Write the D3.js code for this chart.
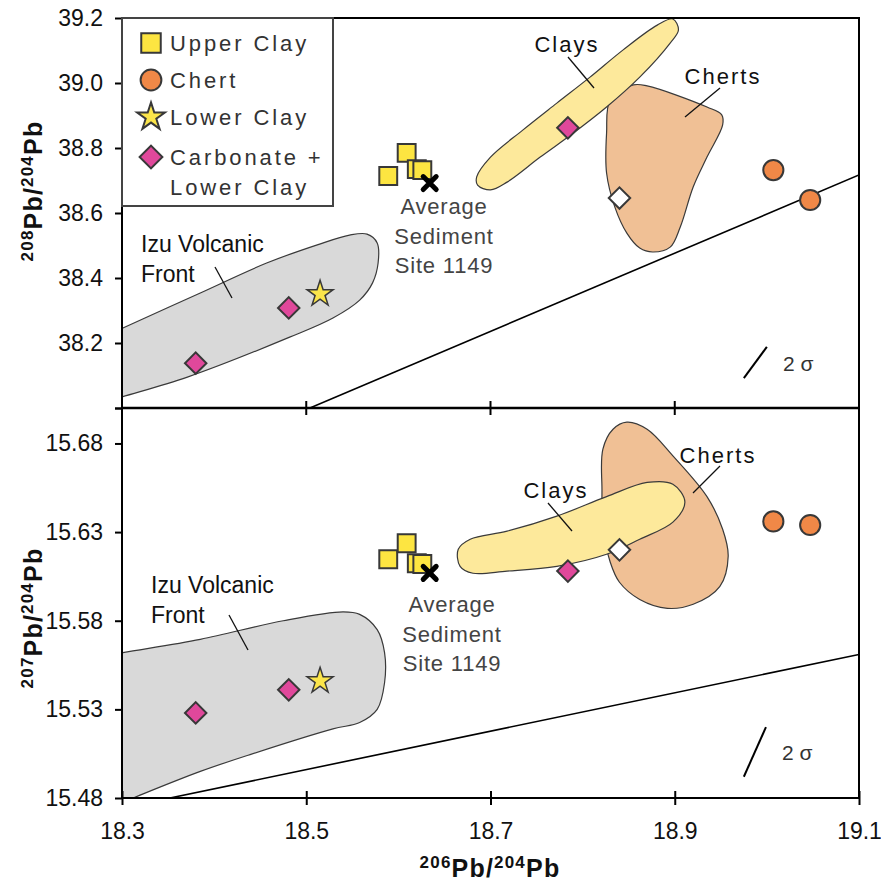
<!DOCTYPE html>
<html>
<head>
<meta charset="utf-8">
<script src="https://cdn.jsdelivr.net/npm/d3@7.9.0/dist/d3.min.js"></script>
<style>
  body { margin: 0; background: #fff; }
  svg { display: block; font-family: "Liberation Sans", Arial, Helvetica, sans-serif; }
</style>
</head>
<body>
<svg id="chart" width="881" height="881"></svg>
<script>
// ---- data ----
const xTicks = [18.3, 18.5, 18.7, 18.9, 19.1];
const y208Ticks = [38.0, 38.2, 38.4, 38.6, 38.8, 39.0, 39.2];
const y207Ticks = [15.48, 15.53, 15.58, 15.63, 15.68, 15.70];

// samples: 206/204, 208/204, 207/204
const upperClayX = [18.589, 18.609, 18.620, 18.626];
const upperClay208 = [38.714, 38.785, 38.735, 38.732];
const upperClay207 = [15.6147, 15.6237, 15.6124, 15.6120];

const chertX = [19.007, 19.047];
const chert208 = [38.732, 38.640];
const chert207 = [15.636, 15.634];

const lowerClayX = [18.515];
const lowerClay208 = [38.351];
const lowerClay207 = [15.546];

const carbX = [18.380, 18.481, 18.784];
const carb208 = [38.138, 38.308, 38.862];
const carb207 = [15.528, 15.541, 15.608];

const openDiamondX = [18.840];
const openDiamond208 = [38.646];
const openDiamond207 = [15.620];

const avgSedX = [18.634];
const avgSed208 = [38.692];
const avgSed207 = [15.607];

// reference lines (end points)
const refLineX208 = [18.504, 19.1];
const refLine208 = [38.0, 38.717];
const refLineX207 = [18.352, 19.1];
const refLine207 = [15.48, 15.561];

// 2 sigma error bars
const sigmaX208 = [18.975, 19.000];
const sigma208 = [38.092, 38.188];
const sigmaX207 = [18.975, 18.999];
const sigma207 = [15.492, 15.520];

// field outlines [206/204, ratio]
const izu208 = [[18.27, 38.206], [18.301, 38.246], [18.385, 38.354], [18.457, 38.446], [18.512, 38.502],
  [18.547, 38.532], [18.566, 38.535], [18.577, 38.508], [18.578, 38.446], [18.572, 38.385],
  [18.558, 38.332], [18.529, 38.277], [18.482, 38.218], [18.371, 38.095], [18.300, 38.034], [18.27, 38.008]];
const clays208 = [[18.685, 38.711], [18.700, 38.772], [18.735, 38.855], [18.772, 38.938], [18.808, 39.018],
  [18.844, 39.102], [18.881, 39.178], [18.898, 39.197], [18.904, 39.163], [18.895, 39.123],
  [18.862, 39.018], [18.826, 38.926], [18.790, 38.846], [18.754, 38.772], [18.718, 38.695],
  [18.700, 38.671], [18.686, 38.686]];
const cherts208 = [[18.830, 38.948], [18.855, 38.994], [18.870, 38.991], [18.935, 38.926], [18.951, 38.902],
  [18.952, 38.871], [18.935, 38.772], [18.920, 38.680], [18.906, 38.557], [18.895, 38.495],
  [18.876, 38.480], [18.862, 38.492], [18.848, 38.538], [18.835, 38.618], [18.826, 38.723], [18.826, 38.846]];

const izu207 = [[18.27, 15.559], [18.301, 15.562], [18.385, 15.5695], [18.475, 15.580], [18.540, 15.585],
  [18.558, 15.5836], [18.577, 15.575], [18.585, 15.562], [18.585, 15.545], [18.577, 15.530],
  [18.558, 15.5226], [18.529, 15.519], [18.439, 15.5045], [18.385, 15.495], [18.312, 15.480], [18.27, 15.471]];
const clays207 = [[18.665, 15.6203], [18.678, 15.626], [18.718, 15.6305], [18.772, 15.639], [18.826, 15.650],
  [18.870, 15.658], [18.898, 15.657], [18.911, 15.647], [18.898, 15.6356], [18.862, 15.626],
  [18.826, 15.6175], [18.772, 15.6107], [18.718, 15.608], [18.681, 15.6068], [18.667, 15.6107]];
const cherts207 = [[18.822, 15.6768], [18.833, 15.688], [18.848, 15.692], [18.870, 15.688], [18.898, 15.673],
  [18.935, 15.650], [18.952, 15.6316], [18.958, 15.6164], [18.949, 15.5994], [18.920, 15.5893],
  [18.892, 15.587], [18.862, 15.592], [18.840, 15.6017], [18.830, 15.613], [18.822, 15.633], [18.821, 15.654]];

// ---- layout ----
const left = 122, right = 859;
const svg = d3.select('#chart');
const x = d3.scaleLinear().domain([18.3, 19.1]).range([left, right]);
const yTop = d3.scaleLinear().domain([38.0, 39.2]).range([408, 18]);
const yBot = d3.scaleLinear().domain([15.48, 15.70]).range([798, 408]);

const colors = {
  izu: '#d9d9d9', clays: '#fde99b', cherts: '#f0c095',
  square: '#fde541', circle: '#f08847', star: '#fbe54a', diamond: '#e0489b', outline: '#383838'
};

const defs = svg.append('defs');
function clip(id, y) {
  defs.append('clipPath').attr('id', id).append('rect')
    .attr('x', left).attr('y', y.range()[1]).attr('width', right - left).attr('height', y.range()[0] - y.range()[1]);
}
clip('clipTop', yTop);
clip('clipBot', yBot);

const blob = d3.line().curve(d3.curveCatmullRomClosed.alpha(0.5));

function drawPanel(y, clipId, d) {
  const g = svg.append('g').attr('clip-path', `url(#${clipId})`);
  const line = blob.x((p) => x(p[0])).y((p) => y(p[1]));

  // fields
  const fields = [[d.izu, colors.izu], [d.cherts, colors.cherts], [d.clays, colors.clays]];
  fields.forEach(([pts, c]) => {
    g.append('path').attr('d', line(pts)).attr('fill', c)
      .attr('stroke', '#3a3a3a').attr('stroke-width', 1.2);
  });

  // reference line
  g.append('line')
    .attr('x1', x(d.refX[0])).attr('y1', y(d.refY[0]))
    .attr('x2', x(d.refX[1])).attr('y2', y(d.refY[1]))
    .attr('stroke', '#000').attr('stroke-width', 1.6);

  // 2 sigma
  g.append('line')
    .attr('x1', x(d.sigX[0])).attr('y1', y(d.sigY[0]))
    .attr('x2', x(d.sigX[1])).attr('y2', y(d.sigY[1]))
    .attr('stroke', '#000').attr('stroke-width', 2);
  svg.append('text').attr('x', x(d.sigX[1]) + 16).attr('y', (y(d.sigY[0]) + y(d.sigY[1])) / 2 + 8)
    .attr('font-size', 21).attr('fill', '#333').text('2 σ');

  // labels with leader lines
  d.labels.forEach((l) => {
    const t = svg.append('text').attr('font-size', l.size || 22).attr('fill', '#111')
      .attr('letter-spacing', l.ls || 0).attr('text-anchor', l.anchor || 'start');
    l.lines.forEach((s, i) => {
      t.append('tspan').attr('x', l.x).attr('y', l.y + i * 30).text(s);
    });
    svg.append('line').attr('x1', l.lead[0]).attr('y1', l.lead[1]).attr('x2', l.lead[2]).attr('y2', l.lead[3])
      .attr('stroke', '#111').attr('stroke-width', 1.3);
  });

  // average sediment label
  const av = svg.append('text').attr('font-size', 22).attr('fill', '#444').attr('text-anchor', 'middle')
    .attr('letter-spacing', 0.8);
  ['Average', 'Sediment', 'Site 1149'].forEach((s, i) => {
    av.append('tspan').attr('x', d.avgLabel[0]).attr('y', d.avgLabel[1] + i * 29.5).text(s);
  });

  // markers
  const mk = svg.append('g');
  const sq = d3.symbol().type(d3.symbolSquare).size(320)();
  const dia = d3.symbol().type(d3.symbolSquare).size(230)();
  const circ = d3.symbol().type(d3.symbolCircle).size(320)();
  const star = d3.symbol().type(d3.symbolStar).size(210)();

  d.upX.forEach((v, i) => mk.append('path').attr('d', sq)
    .attr('transform', `translate(${x(v)},${y(d.upY[i])})`)
    .attr('fill', colors.square).attr('stroke', colors.outline).attr('stroke-width', 2));
  d.chX.forEach((v, i) => mk.append('path').attr('d', circ)
    .attr('transform', `translate(${x(v)},${y(d.chY[i])})`)
    .attr('fill', colors.circle).attr('stroke', colors.outline).attr('stroke-width', 2));
  d.lcX.forEach((v, i) => mk.append('path').attr('d', star)
    .attr('transform', `translate(${x(v)},${y(d.lcY[i])})`)
    .attr('fill', colors.star).attr('stroke', colors.outline).attr('stroke-width', 1.5));
  d.cbX.forEach((v, i) => mk.append('path').attr('d', dia)
    .attr('transform', `translate(${x(v)},${y(d.cbY[i])}) rotate(45)`)
    .attr('fill', colors.diamond).attr('stroke', colors.outline).attr('stroke-width', 2));
  d.odX.forEach((v, i) => mk.append('path').attr('d', dia)
    .attr('transform', `translate(${x(v)},${y(d.odY[i])}) rotate(45)`)
    .attr('fill', '#fff').attr('stroke', colors.outline).attr('stroke-width', 2));
  d.avX.forEach((v, i) => {
    const cx = x(v), cy = y(d.avY[i]), r = 6.5;
    mk.append('path').attr('d', `M${cx - r},${cy - r}L${cx + r},${cy + r}M${cx - r},${cy + r}L${cx + r},${cy - r}`)
      .attr('stroke', '#000').attr('stroke-width', 5).attr('stroke-linecap', 'round');
  });
}

drawPanel(yTop, 'clipTop', {
  izu: izu208, clays: clays208, cherts: cherts208,
  refX: refLineX208, refY: refLine208, sigX: sigmaX208, sigY: sigma208,
  upX: upperClayX, upY: upperClay208, chX: chertX, chY: chert208,
  lcX: lowerClayX, lcY: lowerClay208, cbX: carbX, cbY: carb208,
  odX: openDiamondX, odY: openDiamond208, avX: avgSedX, avY: avgSed208,
  avgLabel: [444, 214],
  labels: [
    { lines: ['Izu Volcanic', 'Front'], x: 141, y: 252, size: 23, lead: [215, 267, 232, 298] },
    { lines: ['Clays'], x: 567, y: 52, anchor: 'middle', ls: 2, lead: [568, 57, 594, 88] },
    { lines: ['Cherts'], x: 723, y: 84, anchor: 'middle', ls: 2, lead: [720, 88, 685, 117] }
  ]
});

drawPanel(yBot, 'clipBot', {
  izu: izu207, clays: clays207, cherts: cherts207,
  refX: refLineX207, refY: refLine207, sigX: sigmaX207, sigY: sigma207,
  upX: upperClayX, upY: upperClay207, chX: chertX, chY: chert207,
  lcX: lowerClayX, lcY: lowerClay207, cbX: carbX, cbY: carb207,
  odX: openDiamondX, odY: openDiamond207, avX: avgSedX, avY: avgSed207,
  avgLabel: [452, 612],
  labels: [
    { lines: ['Izu Volcanic', 'Front'], x: 151, y: 593, size: 23, lead: [229, 615, 248, 650] },
    { lines: ['Clays'], x: 556, y: 498, anchor: 'middle', ls: 2, lead: [548, 503, 572, 531] },
    { lines: ['Cherts'], x: 718, y: 463, anchor: 'middle', ls: 2, lead: [720, 466, 693, 493] }
  ]
});

// ---- axes ----
const axTop = svg.append('g').attr('transform', `translate(${left},0)`)
  .call(d3.axisLeft(yTop).tickValues(y208Ticks).tickSize(7).tickPadding(12)
    .tickFormat((v) => (v === 38.0 ? '' : d3.format('.1f')(v))));
const axBot = svg.append('g').attr('transform', `translate(${left},0)`)
  .call(d3.axisLeft(yBot).tickValues(y207Ticks).tickSize(7).tickPadding(12)
    .tickFormat((v) => (v === 15.70 ? '' : d3.format('.2f')(v))));
const axX = svg.append('g').attr('transform', 'translate(0,798)')
  .call(d3.axisBottom(x).tickValues(xTicks).tickSize(7).tickPadding(18).tickFormat(d3.format('.1f')));
axX.selectAll('.tick line').attr('y1', -7);
[axTop, axBot, axX].forEach((a) => {
  a.select('.domain').remove();
  a.selectAll('.tick line').attr('stroke', '#000').attr('stroke-width', 2);
  a.selectAll('.tick text').attr('font-size', 23).attr('fill', '#111')
    .attr('font-family', '"Liberation Sans", Arial, sans-serif');
});

// middle axis ticks crossing the shared border
svg.append('g').selectAll('line').data(xTicks.slice(1, -1)).join('line')
  .attr('x1', (d) => x(d)).attr('x2', (d) => x(d)).attr('y1', 401).attr('y2', 415)
  .attr('stroke', '#000').attr('stroke-width', 2);

// frames
svg.append('rect').attr('x', left).attr('y', 18).attr('width', right - left).attr('height', 780)
  .attr('fill', 'none').attr('stroke', '#000').attr('stroke-width', 2);
svg.append('line').attr('x1', left).attr('x2', right).attr('y1', 408).attr('y2', 408)
  .attr('stroke', '#000').attr('stroke-width', 2.5);

// ---- legend ----
const lg = svg.append('g');
lg.append('rect').attr('x', 122).attr('y', 18).attr('width', 211).attr('height', 188)
  .attr('fill', '#fff').attr('stroke', '#444').attr('stroke-width', 2);
const legendItems = [
  { label: ['Upper Clay'], type: d3.symbolSquare, size: 380, fill: colors.square, rot: 0, cy: 43 },
  { label: ['Chert'], type: d3.symbolCircle, size: 340, fill: colors.circle, rot: 0, cy: 80 },
  { label: ['Lower Clay'], type: d3.symbolStar, size: 240, fill: colors.star, rot: 0, cy: 117 },
  { label: ['Carbonate +', 'Lower Clay'], type: d3.symbolSquare, size: 260, fill: colors.diamond, rot: 45, cy: 157 }
];
legendItems.forEach((it) => {
  lg.append('path').attr('d', d3.symbol().type(it.type).size(it.size)())
    .attr('transform', `translate(151,${it.cy}) rotate(${it.rot})`)
    .attr('fill', it.fill).attr('stroke', colors.outline).attr('stroke-width', 2);
  const t = lg.append('text').attr('font-size', 22).attr('fill', '#333').attr('letter-spacing', 2.9);
  it.label.forEach((s, i) => t.append('tspan').attr('x', 170).attr('y', it.cy + 8 + i * 30).text(s));
});

// ---- axis titles ----
function title(g, pre1, pre2) {
  g.attr('letter-spacing', 1.2);
  g.append('tspan').attr('font-size', 17).attr('dy', -9).text(pre1);
  g.append('tspan').attr('font-size', 25).attr('dy', 9).text('Pb/');
  g.append('tspan').attr('font-size', 17).attr('dy', -9).text(pre2);
  g.append('tspan').attr('font-size', 25).attr('dy', 9).text('Pb');
}
const tx = svg.append('text').attr('x', 490).attr('y', 877).attr('text-anchor', 'middle')
  .attr('font-weight', 'bold').attr('fill', '#111');
title(tx, '206', '204');
const ty1 = svg.append('text').attr('transform', 'translate(42,191) rotate(-90)').attr('text-anchor', 'middle')
  .attr('font-weight', 'bold').attr('fill', '#111');
title(ty1, '208', '204');
const ty2 = svg.append('text').attr('transform', 'translate(42,618) rotate(-90)').attr('text-anchor', 'middle')
  .attr('font-weight', 'bold').attr('fill', '#111');
title(ty2, '207', '204');
</script>
</body>
</html>
